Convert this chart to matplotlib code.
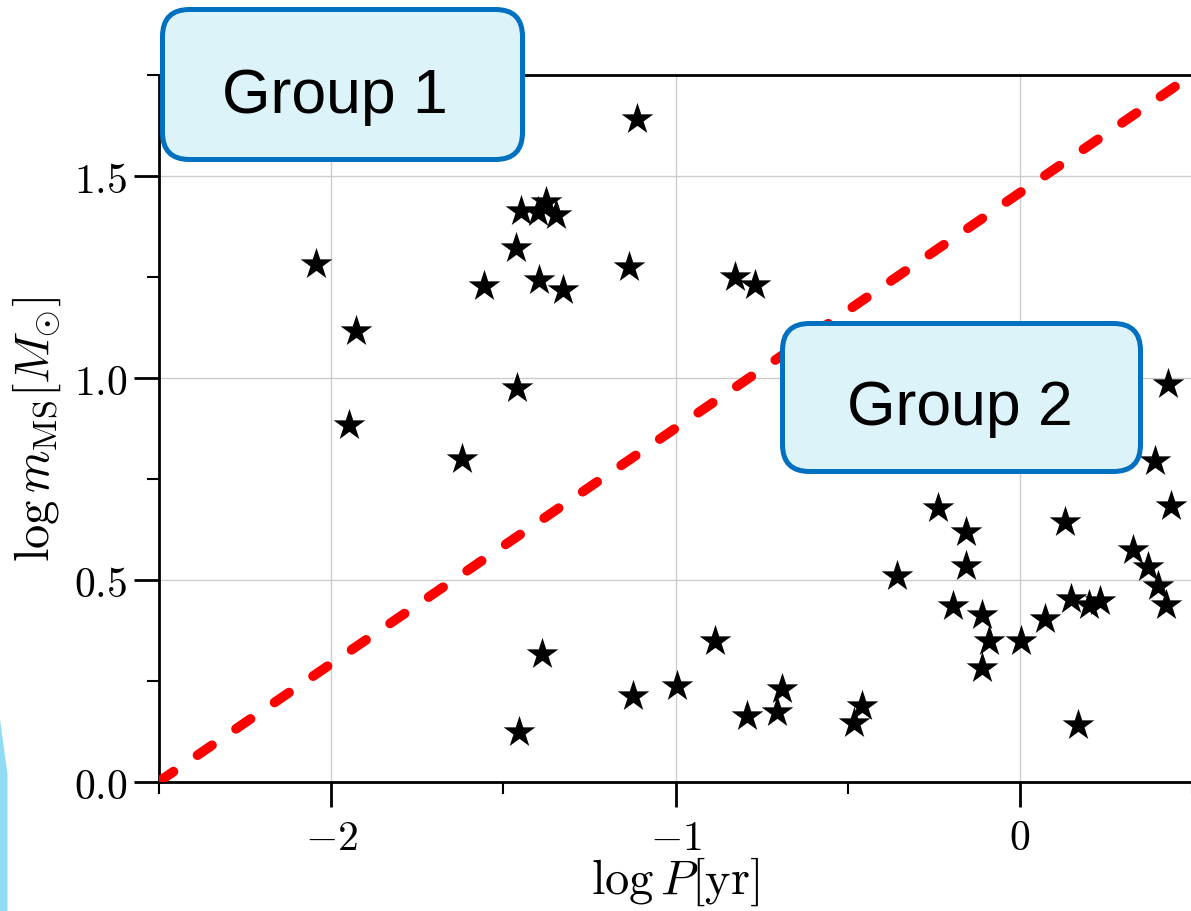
import numpy as np
import matplotlib
matplotlib.use('Agg')
import matplotlib.pyplot as plt
from matplotlib.patches import FancyBboxPatch, Polygon
from matplotlib.ticker import MultipleLocator, FuncFormatter

plt.rcParams['mathtext.fontset'] = 'cm'
plt.rcParams['font.family'] = ['DejaVu Serif']

# star positions
log_P = [-2.044, -1.928, -1.949, -1.619, -1.555, -1.463, -1.448, -1.399, -1.376,
         -1.347, -1.461, -1.395, -1.327, -1.134, -1.113, -0.827, -0.769,
         -1.388, -1.455, -1.122, -0.997, -0.885, -0.793, -0.690, -0.706,
         -0.457, -0.482,
         -0.356, -0.237, -0.157, -0.155, -0.195, -0.111, -0.089, -0.111,
         0.002, 0.072, 0.131, 0.148, 0.169, 0.201, 0.234, 0.329, 0.372,
         0.401, 0.425, 0.439, 0.392, 0.431]
log_m = [1.283, 1.115, 0.883, 0.799, 1.228, 1.322, 1.414, 1.411, 1.436,
         1.404, 0.975, 1.241, 1.218, 1.274, 1.642, 1.250, 1.229,
         0.316, 0.122, 0.213, 0.236, 0.347, 0.163, 0.229, 0.173,
         0.188, 0.145,
         0.510, 0.677, 0.618, 0.533, 0.434, 0.413, 0.347, 0.281,
         0.347, 0.403, 0.642, 0.452, 0.140, 0.437, 0.448, 0.574, 0.531,
         0.485, 0.437, 0.682, 0.795, 0.985]

# dividing line
line_P = [-2.5, 0.5]
line_m = [0.0, 1.75]

group_labels = ['Group 1', 'Group 2']

fig = plt.figure(figsize=(11.91, 9.12), dpi=100)
ax = fig.add_axes([159/1191, 1-782.5/912, 1033/1191, 706.5/912])

ax.plot(line_P, line_m, color='#ff0000', lw=7, linestyle=(0, (1.8, 3.0)),
        dash_capstyle='round', zorder=3)
ax.scatter(log_P, log_m, marker='*', s=24**2, color='black', linewidths=0, zorder=4)

ax.set_xlim(-2.5, 0.5)
ax.set_ylim(0, 1.75)
ax.xaxis.set_major_locator(MultipleLocator(1))
ax.xaxis.set_minor_locator(MultipleLocator(0.5))
ax.yaxis.set_major_locator(MultipleLocator(0.5))
ax.yaxis.set_minor_locator(MultipleLocator(0.25))
ax.xaxis.set_major_formatter(FuncFormatter(lambda v, p: r'$%d$' % round(v)))
ax.yaxis.set_major_formatter(FuncFormatter(lambda v, p: r'$%.1f$' % v))
ax.tick_params(which='major', direction='out', length=18, width=2, labelsize=30, pad=7)
ax.tick_params(which='minor', direction='out', length=8.5, width=1.5)
ax.tick_params(axis='y', which='major', pad=5)
for s in ax.spines.values():
    s.set_linewidth(2)
ax.grid(True, which='major', color='#cccccc', lw=1)
ax.set_axisbelow(True)

ax.set_xlabel(r'$\log P[\mathrm{yr}]$', fontsize=35)
ax.set_ylabel(r'$\log m_{\mathrm{MS}}[M_{\odot}]$', fontsize=35)
ax.xaxis.set_label_coords(0.5, -0.103)
ax.yaxis.set_label_coords(-0.093, 0.5)

# slide call-out boxes, in inches from the lower left corner
tr = fig.dpi_scale_trans
box1 = FancyBboxPatch((1.625, 7.515), 3.6, 1.5, boxstyle='round,pad=0,rounding_size=0.27',
                      fc='#ddf3fa', ec='#0070c0', lw=3.6, transform=tr, zorder=10)
box2 = FancyBboxPatch((7.825, 4.395), 3.58, 1.48, boxstyle='round,pad=0,rounding_size=0.27',
                      fc='#ddf3fa', ec='#0070c0', lw=3.6, transform=tr, zorder=10)
fig.add_artist(box1)
fig.add_artist(box2)
fig.text(3.345, 7.99, group_labels[0], transform=tr, ha='center', va='baseline',
         fontsize=45, family=['Liberation Sans', 'DejaVu Sans'], zorder=11)
fig.text(9.60, 4.87, group_labels[1], transform=tr, ha='center', va='baseline',
         fontsize=45, family=['Liberation Sans', 'DejaVu Sans'], zorder=11)

# blue sliver at the left edge of the slide
sliver = Polygon([(0, 0), (0.075, 0), (0.075, 1.37), (0, 1.92)], closed=True,
                 fc='#92dcf3', ec='none', transform=tr, zorder=1)
fig.add_artist(sliver)

plt.savefig('out.png', dpi=100)
